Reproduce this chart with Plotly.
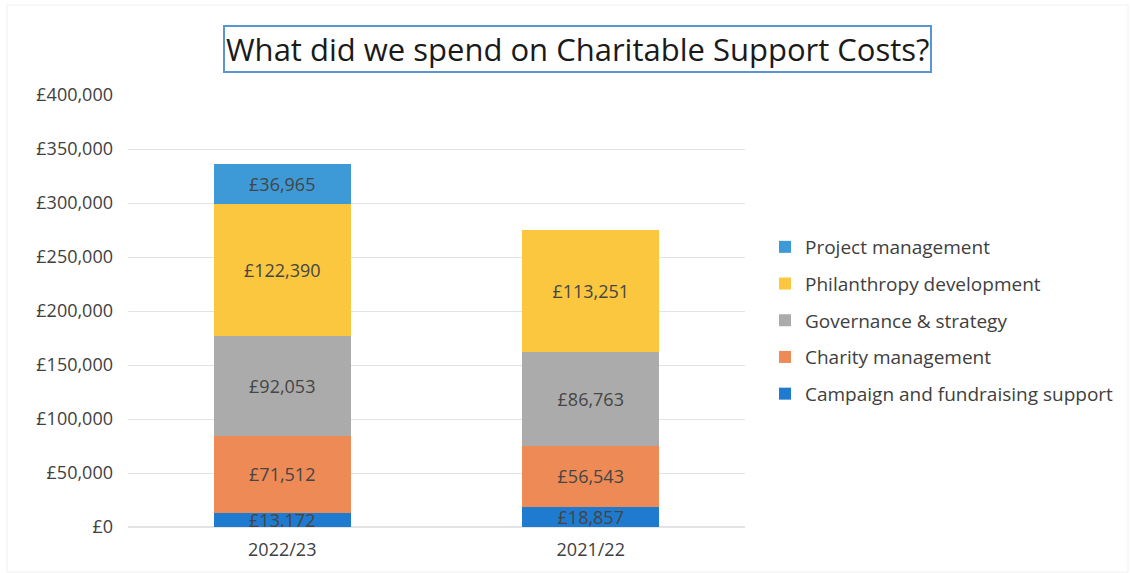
import plotly.graph_objects as go

# Financial years shown on the x axis
years = ["2022/23", "2021/22"]

# Support cost categories (bottom of the stack first)
campaign = [13172, 18857]
charity_mgmt = [71512, 56543]
governance = [92053, 86763]
philanthropy = [122390, 113251]
project_mgmt = [36965, None]

y_ticks = [0, 50000, 100000, 150000, 200000, 250000, 300000, 350000, 400000]
y_tick_text = ["£0", "£50,000", "£100,000", "£150,000", "£200,000",
               "£250,000", "£300,000", "£350,000", "£400,000"]

series = [
    ("Campaign and fundraising support", campaign, "#1f7bcf"),
    ("Charity management", charity_mgmt, "#ee8a56"),
    ("Governance & strategy", governance, "#ababab"),
    ("Philanthropy development", philanthropy, "#fbc73f"),
    ("Project management", project_mgmt, "#3d9ad6"),
]

FONT = "'Open Sans', Lato, sans-serif"

# Plot-area geometry in pixels, used to place the title and frame
W, H = 1131, 573
L, R, T, B = 128, 386, 95, 46
PW, PH = W - L - R, H - T - B


def px_x(px):
    return (px - L) / PW


def px_y(py):
    return 1 - (py - T) / PH


fig = go.Figure()
n = len(series)
for i, (name, vals, color) in enumerate(series):
    fig.add_trace(go.Bar(
        x=years,
        y=vals,
        name=name,
        legendgroup=f"g{i}",
        legendrank=n - i,
        marker=dict(color=color, line=dict(width=0)),
        texttemplate="£%{y:,}",
        textposition="inside",
        insidetextanchor="middle",
        textfont=dict(family=FONT, size=18, color="#454545"),
        constraintext="none",
        hoverinfo="skip",
    ))

fig.update_layout(
    barmode="stack",
    bargap=0.555,
    width=W,
    height=H,
    paper_bgcolor="white",
    plot_bgcolor="white",
    margin=dict(l=L, r=R, t=T, b=B),
    font=dict(family=FONT, color="#404040"),
    showlegend=True,
    legend=dict(
        x=px_x(765), y=px_y(228), xanchor="left", yanchor="top",
        traceorder="grouped",
        tracegroupgap=9,
        font=dict(family=FONT, size=19, color="#404040"),
        itemwidth=30,
    ),
    xaxis=dict(
        showline=False,
        ticks="",
        ticklabelstandoff=10,
        tickfont=dict(family=FONT, size=18, color="#404040"),
    ),
    yaxis=dict(
        range=[0, 400000],
        tickvals=y_ticks,
        ticktext=y_tick_text,
        showgrid=True,
        gridcolor="#e3e3e3",
        gridwidth=1,
        zeroline=True,
        zerolinecolor="#e3e3e3",
        ticks="",
        ticklabelstandoff=14,
        tickfont=dict(family=FONT, size=18, color="#404040"),
    ),
    shapes=[dict(
        type="rect", xref="paper", yref="paper",
        x0=px_x(7), x1=px_x(1128), y0=px_y(572), y1=px_y(5),
        line=dict(color="#f0f0f0", width=1),
        layer="below",
    )],
    annotations=[dict(
        text="What did we spend on Charitable Support Costs?",
        xref="paper", yref="paper",
        x=px_x(577), y=px_y(49),
        xanchor="center", yanchor="middle",
        showarrow=False,
        font=dict(family=FONT, size=31, color="#1a1a1a"),
        bordercolor="#5b95cf",
        borderwidth=2,
        borderpad=1,
        bgcolor="white",
    )],
)

fig.write_html("out.html")
